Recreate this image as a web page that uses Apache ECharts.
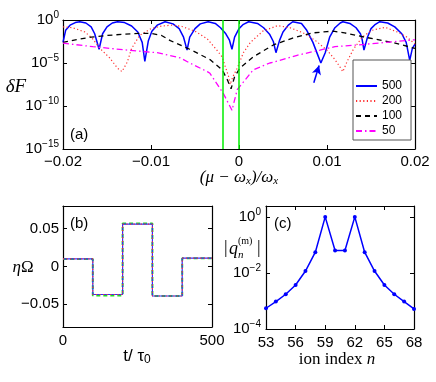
<!DOCTYPE html>
<html>
<head>
<meta charset="utf-8">
<script src="https://cdn.jsdelivr.net/npm/echarts@6/dist/echarts.min.js"></script>
<style>
html, body { margin: 0; padding: 0; background: #fff; }
#chart { width: 436px; height: 382px; }
</style>
</head>
<body>
<div id="chart"></div>
<script>
// (a) infidelity vs detuning: [(mu - wx)/wx, log10(dF)]
const dF500 = [
    [-0.0200, -2.6], [-0.0197, -1.2], [-0.0192, -0.6], [-0.0186, -0.3], [-0.0181, -0.2], [-0.0174, -0.35],
    [-0.0168, -0.8], [-0.0164, -1.6], [-0.0159, -3.4], [-0.0155, -1.6], [-0.0150, -0.8], [-0.0144, -0.35],
    [-0.0138, -0.2], [-0.0130, -0.3], [-0.0122, -0.7], [-0.0115, -1.4], [-0.0110, -2.6], [-0.0107, -4.8],
    [-0.0103, -2.4], [-0.0099, -1.3], [-0.0093, -0.6], [-0.0084, -0.2], [-0.0075, -0.45], [-0.0068, -1.0],
    [-0.0063, -2.0], [-0.0059, -3.5], [-0.0056, -2.0], [-0.0050, -1.0], [-0.0044, -0.45], [-0.0035, -0.2],
    [-0.0027, -0.4], [-0.0021, -0.9], [-0.0015, -1.6], [-0.0011, -2.3], [-0.0008, -3.4], [-0.0005, -2.0],
    [0.0000, -1.0], [0.0005, -0.5], [0.0011, -0.2], [0.0021, -0.4], [0.0028, -0.9], [0.0035, -1.7],
    [0.0039, -2.5], [0.0042, -3.8], [0.0046, -2.4], [0.0050, -1.4], [0.0056, -0.6], [0.0061, -0.2],
    [0.0071, -0.4], [0.0077, -1.2], [0.0084, -2.6], [0.0090, -4.2], [0.0093, -5.0], [0.0098, -3.8],
    [0.0103, -2.0], [0.0109, -0.9], [0.0115, -0.35], [0.0118, -0.2], [0.0126, -0.4], [0.0133, -0.9],
    [0.0138, -1.6], [0.0140, -2.3], [0.0142, -3.5], [0.0146, -2.0], [0.0150, -1.0], [0.0155, -0.5],
    [0.0160, -0.2], [0.0169, -0.35], [0.0177, -0.8], [0.0185, -1.6], [0.0190, -2.6], [0.0194, -4.7],
    [0.0197, -3.3], [0.0200, -2.8]
];
const dF200 = [
    [-0.0200, -0.8], [-0.0189, -0.9], [-0.0175, -1.4], [-0.0167, -2.1], [-0.0158, -3.3], [-0.0147, -4.4],
    [-0.0138, -5.6], [-0.0133, -6.0], [-0.0127, -4.9], [-0.0122, -3.3], [-0.0113, -1.8], [-0.0100, -1.0],
    [-0.0088, -0.7], [-0.0076, -0.6], [-0.0065, -0.75], [-0.0050, -1.3], [-0.0036, -2.2], [-0.0026, -3.4],
    [-0.0019, -4.3], [-0.0016, -5.3], [-0.0012, -6.5], [-0.0010, -7.5], [-0.0007, -6.6], [-0.0002, -5.6],
    [0.0005, -3.8], [0.0013, -2.6], [0.0027, -1.3], [0.0044, -0.65], [0.0058, -0.9], [0.0073, -1.5],
    [0.0087, -2.4], [0.0100, -3.5], [0.0109, -4.6], [0.0115, -5.5], [0.0118, -6.0], [0.0123, -4.8],
    [0.0130, -3.4], [0.0140, -2.0], [0.0151, -1.2], [0.0166, -0.85], [0.0180, -1.4], [0.0191, -2.0],
    [0.0200, -2.8]
];
const dF100 = [
    [-0.0200, -2.6], [-0.0186, -2.3], [-0.0168, -2.0], [-0.0150, -1.8], [-0.0131, -1.65], [-0.0114, -1.55],
    [-0.0100, -1.55], [-0.0088, -1.8], [-0.0078, -2.4], [-0.0056, -3.4], [-0.0033, -4.6], [-0.0019, -5.8],
    [-0.0013, -7.0], [-0.0009, -8.0], [-0.0005, -6.6], [0.0001, -5.6], [0.0016, -4.3], [0.0039, -2.9],
    [0.0061, -2.1], [0.0084, -1.5], [0.0100, -1.35], [0.0107, -1.3], [0.0120, -1.5], [0.0143, -2.0],
    [0.0174, -2.6], [0.0200, -3.3]
];
const dF50 = [
    [-0.0200, -2.7], [-0.0166, -3.1], [-0.0127, -3.5], [-0.0093, -3.8], [-0.0067, -4.4], [-0.0056, -5.0],
    [-0.0036, -6.0], [-0.0033, -6.2], [-0.0018, -8.5], [-0.0008, -10.5], [-0.0002, -8.1], [0.0013, -6.2],
    [0.0016, -5.8], [0.0035, -5.0], [0.0039, -4.9], [0.0066, -4.1], [0.0092, -3.5], [0.0109, -3.1],
    [0.0135, -2.9], [0.0200, -2.3]
];
const tauNames = ['500', '200', '100', '50'];
const guideLines = [-0.0019, 0];
const arrowFrom = [0.0085, -7.3];
const arrowTo = [0.0091, -5.3];

// (b) pulse amplitudes eta*Omega per segment
const pulseT = [0, 100, 200, 300, 400, 500];
const pulseBlue = [0.010, -0.037, 0.056, -0.039, 0.011, 0.011];
const pulseRed = [0.010, -0.037, 0.056, -0.039, 0.011, 0.011];
const pulseGreen = [0.010, -0.0385, 0.057, -0.039, 0.011, 0.011];

// (c) mode participation per ion
const ionIndex = [53, 54, 55, 56, 57, 58, 59, 60, 61, 62, 63, 64, 65, 66, 67, 68];
const qAbs = [5.5e-4, 9.5e-4, 1.74e-3, 3.7e-3, 1.17e-2, 5.5e-2, 1.0, 6.3e-2,
    6.3e-2, 1.0, 5.5e-2, 1.17e-2, 3.7e-3, 1.74e-3, 9.5e-4, 5.2e-4];

const SANS = '"Liberation Sans", Arial, sans-serif';
const SERIF = '"Liberation Serif", "Times New Roman", serif';
const MINUS = '\u2212';

const toLog = (pts) => pts.map((p) => [p[0], Math.pow(10, p[1])]);

const powLabel = (v) => {
    const e = Math.round(Math.log10(v));
    return '10{s|' + (e < 0 ? MINUS + -e : e) + '}';
};
const decLabel = (v) => (Math.abs(v) < 1e-9 ? '0' : (v < 0 ? MINUS : '') + Math.abs(v).toFixed(2));

const axisLine = { show: true, onZero: false, lineStyle: { color: '#000', width: 1.2 } };
const tick = { show: true, inside: true, length: 4, lineStyle: { color: '#000', width: 1 } };
const label = (size, extra) => Object.assign({
    color: '#000', fontSize: size, fontFamily: SANS,
}, extra);

const xPair = (grid, opts, lab) => [
    Object.assign({ gridIndex: grid, type: 'value', position: 'bottom', axisLine, axisTick: tick,
        splitLine: { show: false }, axisLabel: lab }, opts),
    Object.assign({ gridIndex: grid, type: 'value', position: 'top', axisLine, axisTick: tick,
        splitLine: { show: false }, axisLabel: { show: false } }, opts),
];
const yPair = (grid, opts, lab, tickVals) => [
    Object.assign({ gridIndex: grid, position: 'left', axisLine,
        axisTick: Object.assign({ customValues: tickVals }, tick),
        splitLine: { show: false }, axisLabel: Object.assign({ customValues: tickVals }, lab) }, opts),
    Object.assign({ gridIndex: grid, position: 'right', axisLine,
        axisTick: Object.assign({ customValues: tickVals }, tick),
        splitLine: { show: false }, axisLabel: { show: false } }, opts),
];

const supRich = { s: { fontSize: 10, fontFamily: SANS, color: '#000', padding: [0, 0, 9, 0] } };

const chart = echarts.init(document.getElementById('chart'), null, { renderer: 'canvas' });

const option = {
    animation: false,
    backgroundColor: '#fff',
    grid: [
        { left: 63, top: 20, width: 352, height: 129 },
        { left: 63, top: 206, width: 149, height: 121 },
        { left: 266, top: 206, width: 148, height: 123 },
    ],
    xAxis: [
        ...xPair(0, { min: -0.02, max: 0.02, interval: 0.01 }, label(15, { margin: 5, formatter: decLabel })),
        ...xPair(1, { min: 0, max: 500, interval: 500 }, label(15, { margin: 6 })),
        ...xPair(2, { min: 53, max: 68, interval: 3 }, label(15, { margin: 6 })),
    ],
    yAxis: [
        ...yPair(0, { type: 'log', min: 1e-15, max: 1 }, label(15, {
            margin: 4, formatter: powLabel, rich: supRich,
        }), [1e-15, 1e-10, 1e-5, 1]),
        ...yPair(1, { type: 'value', min: -0.08, max: 0.08 }, label(15, {
            margin: 4, formatter: decLabel,
        }), [-0.05, 0, 0.05]),
        ...yPair(2, { type: 'log', min: 1e-4, max: 2.45 }, label(15, {
            margin: 5, formatter: powLabel, rich: supRich,
        }), [1e-4, 1e-2, 1]),
    ],
    legend: {
        data: tauNames,
        orient: 'vertical',
        left: 353,
        top: 60,
        padding: [20, 9, 3, 2],
        itemWidth: 21,
        itemHeight: 10,
        itemGap: 3,
        backgroundColor: '#fff',
        borderColor: '#555',
        borderWidth: 1,
        itemStyle: { opacity: 0 },
        textStyle: { color: '#000', fontSize: 12, fontFamily: SANS, lineHeight: 12 },
    },
    graphic: [
        { type: 'text', x: 357, y: 70, style: { text: 'τ / τ{s|0}', fontSize: 14, fontFamily: SANS, fill: '#000',
            verticalAlign: 'middle', rich: { s: { fontSize: 10, fontFamily: SANS, padding: [8, 0, 0, 0] } } } },
        { type: 'text', x: 70, y: 135, style: { text: '(a)', fontSize: 15, fontFamily: SANS, fill: '#000', verticalAlign: 'middle' } },
        { type: 'text', x: 70, y: 224, style: { text: '(b)', fontSize: 15, fontFamily: SANS, fill: '#000', verticalAlign: 'middle' } },
        { type: 'text', x: 274, y: 224, style: { text: '(c)', fontSize: 15, fontFamily: SANS, fill: '#000', verticalAlign: 'middle' } },
        { type: 'text', x: 16, y: 87, style: { text: 'δF', fontSize: 19, fontFamily: SERIF, fontStyle: 'italic',
            fill: '#000', align: 'center', verticalAlign: 'middle' } },
        { type: 'text', x: 239, y: 178, style: { text: '(μ − ω{s|x})/ω{s|x}', fontSize: 17, fontFamily: SERIF,
            fontStyle: 'italic', fill: '#000', align: 'center', verticalAlign: 'middle',
            rich: { s: { fontSize: 11, fontFamily: SERIF, fontStyle: 'italic', padding: [6, 0, 0, 0] } } } },
        { type: 'text', x: 23, y: 268, style: { text: '{e|η}Ω', fontSize: 17, fontFamily: SERIF, fill: '#000',
            align: 'center', verticalAlign: 'middle',
            rich: { e: { fontSize: 17, fontFamily: SERIF, fontStyle: 'italic' } } } },
        { type: 'text', x: 137, y: 356, style: { text: 't/ τ{s|0}', fontSize: 17, fontFamily: SANS, fill: '#000',
            align: 'center', verticalAlign: 'middle',
            rich: { s: { fontSize: 12, fontFamily: SANS, padding: [8, 0, 0, 0] } } } },
        { type: 'text', x: 337, y: 360, style: { text: 'ion index {i|n}', fontSize: 17, fontFamily: SERIF, fill: '#000',
            align: 'center', verticalAlign: 'middle',
            rich: { i: { fontSize: 17, fontFamily: SERIF, fontStyle: 'italic' } } } },
        { type: 'text', x: 224, y: 248, style: { text: '|', fontSize: 18, fontFamily: SERIF, fill: '#000', verticalAlign: 'middle' } },
        { type: 'text', x: 229, y: 249, style: { text: 'q', fontSize: 18, fontFamily: SERIF, fontStyle: 'italic', fill: '#000', verticalAlign: 'middle' } },
        { type: 'text', x: 238, y: 241, style: { text: '(m)', fontSize: 10, fontFamily: SERIF, fill: '#000', verticalAlign: 'middle' } },
        { type: 'text', x: 238, y: 255, style: { text: 'n', fontSize: 11, fontFamily: SERIF, fontStyle: 'italic', fill: '#000', verticalAlign: 'middle' } },
        { type: 'text', x: 257, y: 248, style: { text: '|', fontSize: 18, fontFamily: SERIF, fill: '#000', verticalAlign: 'middle' } },
    ],
    series: [
        {
            name: '500', type: 'line', xAxisIndex: 0, yAxisIndex: 0, data: toLog(dF500), symbol: 'none',
            lineStyle: { color: '#0000ff', width: 1.5 }, itemStyle: { color: '#0000ff' },
            markLine: {
                silent: true, animation: false, label: { show: false },
                symbol: ['none', 'arrow'], symbolSize: [7, 9],
                lineStyle: { color: '#0000ff', width: 1.5, type: 'solid' },
                data: [[
                    { coord: [arrowFrom[0], Math.pow(10, arrowFrom[1])] },
                    { coord: [arrowTo[0], Math.pow(10, arrowTo[1])] },
                ]],
            },
        },
        {
            name: '200', type: 'line', xAxisIndex: 0, yAxisIndex: 0, data: toLog(dF200), symbol: 'none',
            lineStyle: { color: '#ff3030', width: 1.2, type: [1.2, 2.4] }, itemStyle: { color: '#ff3030' },
        },
        {
            name: '100', type: 'line', xAxisIndex: 0, yAxisIndex: 0, data: toLog(dF100), symbol: 'none',
            lineStyle: { color: '#000', width: 1.3, type: [5, 4] }, itemStyle: { color: '#000' },
        },
        {
            name: '50', type: 'line', xAxisIndex: 0, yAxisIndex: 0, data: toLog(dF50), symbol: 'none',
            lineStyle: { color: '#ff00ff', width: 1.3, type: [6, 3, 1.5, 3] }, itemStyle: { color: '#ff00ff' },
            markLine: {
                silent: true, animation: false, label: { show: false }, symbol: ['none', 'none'],
                lineStyle: { color: '#00ee00', width: 1.5, type: 'solid' },
                data: guideLines.map((x) => [{ coord: [x, 1e-15] }, { coord: [x, 1] }]),
            },
        },
        {
            type: 'line', xAxisIndex: 2, yAxisIndex: 2, step: 'end', symbol: 'none',
            data: pulseT.map((t, i) => [t, pulseGreen[i]]),
            lineStyle: { color: '#22dd22', width: 2, type: [4, 3] },
        },
        {
            type: 'line', xAxisIndex: 2, yAxisIndex: 2, step: 'end', symbol: 'none',
            data: pulseT.map((t, i) => [t, pulseBlue[i]]),
            lineStyle: { color: '#3030ff', width: 1.2 },
        },
        {
            type: 'line', xAxisIndex: 2, yAxisIndex: 2, step: 'end', symbol: 'none',
            data: pulseT.map((t, i) => [t, pulseRed[i]]),
            lineStyle: { color: '#ff3030', width: 1.2, type: [1.2, 2.4] },
        },
        {
            type: 'line', xAxisIndex: 4, yAxisIndex: 4, symbol: 'circle', symbolSize: 4,
            data: ionIndex.map((n, i) => [n, qAbs[i]]),
            lineStyle: { color: '#0000ff', width: 1.5 }, itemStyle: { color: '#0000ff' },
        },
    ],
};

chart.setOption(option);
</script>
</body>
</html>
